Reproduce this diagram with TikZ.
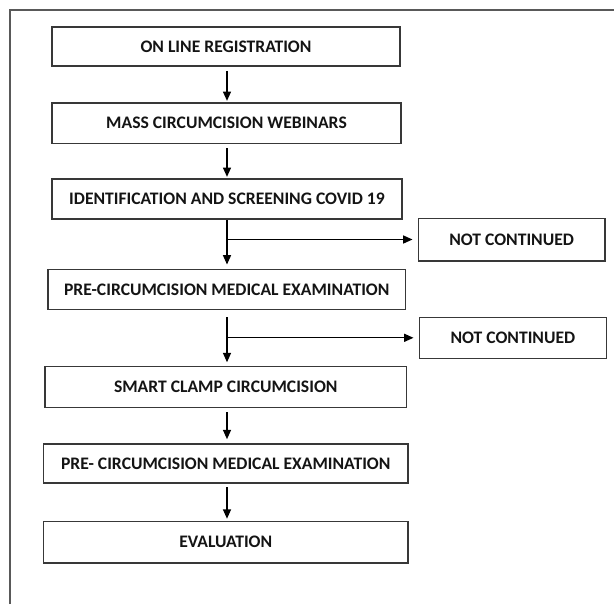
\documentclass[tikz,border=0pt]{standalone}
\usepackage{fontspec}
\setmainfont{Carlito}
\usetikzlibrary{arrows.meta}
\begin{document}
\begin{tikzpicture}[x=0.75pt,y=-0.75pt,
  stepbox/.style={draw=black!78,line width=1.2pt,rectangle,inner sep=0pt,
    font=\fontsize{13.2}{15}\selectfont\bfseries,text=black!92},
  sz/.style 2 args={minimum width=#1*0.75pt,minimum height=#2*0.75pt},
  arr/.style={line width=1pt,-{Triangle[width=6pt,length=7pt]}},
  frameline/.style={line width=1.5pt,draw=black!65}]
\useasboundingbox (0,0) rectangle (614,604);
\draw[frameline] (10,604) -- (10,9.5) -- (614,9.5);
\coordinate (spine) at (227,0);
\node[stepbox,sz={348}{39}]     (b1)  at (226,46.5)    {ON LINE REGISTRATION};
\node[stepbox,sz={349}{40.5}]   (b2)  at (226.5,123.25) {MASS CIRCUMCISION WEBINARS};
\node[stepbox,sz={350}{40}]     (b3)  at (227,199)     {IDENTIFICATION AND SCREENING COVID 19};
\node[stepbox,sz={357.5}{40}]   (b4)  at (226.75,289.3) {PRE-CIRCUMCISION MEDICAL EXAMINATION};
\node[stepbox,sz={361.5}{41}]   (b5)  at (225.75,387)  {SMART CLAMP CIRCUMCISION};
\node[stepbox,sz={364.5}{39}]   (b6)  at (225.75,463.5) {PRE- CIRCUMCISION MEDICAL EXAMINATION};
\node[stepbox,sz={364.5}{41.2}] (b7)  at (225.75,542.1) {EVALUATION};
\node[stepbox,sz={186.7}{42.4}] (nc1) at (511.65,239.5) {NOT CONTINUED};
\node[stepbox,sz={187.2}{41}]   (nc2) at (512.9,337.8)  {NOT CONTINUED};
\draw[arr,shorten <=3pt,shorten >=1pt] (b1.south -| spine) -- (b2.north -| spine);
\draw[arr,shorten <=3pt,shorten >=1pt] (b2.south -| spine) -- (b3.north -| spine);
\draw[arr,shorten >=3pt] (b3.south -| spine) -- (b4.north -| spine);
\draw[arr,shorten >=3.75pt] (nc1.west -| spine) -- (nc1.west);
\draw[arr,shorten <=5.25pt,shorten >=2.6pt] (b4.south -| spine) -- (b5.north -| spine);
\draw[arr,shorten >=3.75pt] (nc2.west -| spine) -- (nc2.west);
\draw[arr,shorten <=3pt,shorten >=3pt] (b5.south -| spine) -- (b6.north -| spine);
\draw[arr,shorten <=2.6pt,shorten >=1.5pt] (b6.south -| spine) -- (b7.north -| spine);
\end{tikzpicture}
\end{document}
